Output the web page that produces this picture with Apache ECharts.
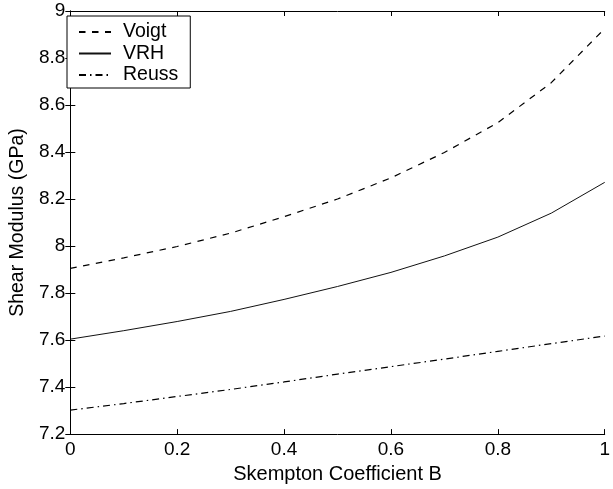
<!DOCTYPE html>
<html>
<head>
<meta charset="utf-8">
<script src="https://cdn.jsdelivr.net/npm/echarts@6/dist/echarts.min.js"></script>
<style>
html,body{margin:0;padding:0;background:#fff;}
#chart{width:613px;height:489px;}
</style>
</head>
<body>
<div id="chart"></div>
<script>
// Skempton coefficient B
const bValues = [0, 0.1, 0.2, 0.3, 0.4, 0.5, 0.6, 0.7, 0.8, 0.9, 1.0];
// Shear modulus (GPa)
const voigt = [7.905, 7.950, 7.998, 8.055, 8.125, 8.200, 8.290, 8.398, 8.525, 8.695, 8.925];
const vrh   = [7.604, 7.640, 7.679, 7.722, 7.773, 7.828, 7.888, 7.958, 8.038, 8.140, 8.271];
const reuss = [7.302, 7.330, 7.360, 7.390, 7.422, 7.455, 7.487, 7.519, 7.552, 7.585, 7.617];
const seriesNames = ['Voigt', 'VRH', 'Reuss'];

const FONT = 'Liberation Sans, Arial, Helvetica, sans-serif';
const pairs = arr => bValues.map((b, i) => [b, arr[i]]);

const axisLineStyle = { show: true, lineStyle: { color: '#000', width: 1 } };
const tickStyle = { show: true, inside: true, length: 5, lineStyle: { color: '#000', width: 1 } };

const chart = echarts.init(document.getElementById('chart'), null, { renderer: 'canvas' });
chart.setOption({
  animation: false,
  backgroundColor: '#fff',
  grid: { left: 60, right: 2, top: 11, bottom: 47, containLabel: false },
  legend: {
    orient: 'vertical',
    left: 67,
    top: 16,
    data: seriesNames,
    itemWidth: 32,
    itemHeight: 14,
    itemGap: 1.5,
    padding: [6, 12, 3, 11],
    borderColor: '#000',
    borderWidth: 1,
    backgroundColor: '#fff',
    itemStyle: { opacity: 0 },
    textStyle: { fontFamily: FONT, fontSize: 19.5, color: '#000', lineHeight: 20, padding: [0, 0, 0, 7] }
  },
  xAxis: [{
    type: 'value', min: 0, max: 1, interval: 0.2,
    name: 'Skempton Coefficient B', nameLocation: 'middle', nameGap: 24,
    nameTextStyle: { fontFamily: FONT, fontSize: 20, color: '#000' },
    axisLine: axisLineStyle, axisTick: tickStyle,
    axisLabel: { fontFamily: FONT, fontSize: 19, color: '#000', margin: 6 },
    splitLine: { show: false }
  }, {
    type: 'value', min: 0, max: 1, interval: 0.2, position: 'top',
    axisLine: axisLineStyle, axisTick: tickStyle,
    axisLabel: { show: false }, splitLine: { show: false }
  }],
  yAxis: [{
    type: 'value', min: 7.2, max: 9, interval: 0.2,
    name: 'Shear Modulus (GPa)', nameLocation: 'middle', nameGap: 36,
    nameTextStyle: { fontFamily: FONT, fontSize: 19.5, color: '#000' },
    axisLine: axisLineStyle, axisTick: tickStyle,
    axisLabel: { fontFamily: FONT, fontSize: 19, color: '#000', margin: 5 },
    splitLine: { show: false }
  }, {
    type: 'value', min: 7.2, max: 9, interval: 0.2, position: 'right',
    axisLine: axisLineStyle, axisTick: tickStyle,
    axisLabel: { show: false }, splitLine: { show: false }
  }],
  series: [{
    name: seriesNames[0], type: 'line', data: pairs(voigt),
    symbol: 'none', smooth: false,
    itemStyle: { color: '#000' },
    lineStyle: { color: '#000', width: 1.2, type: [6.5, 6.5] }
  }, {
    name: seriesNames[1], type: 'line', data: pairs(vrh),
    symbol: 'none', smooth: false,
    itemStyle: { color: '#000' },
    lineStyle: { color: '#111', width: 1, type: 'solid' }
  }, {
    name: seriesNames[2], type: 'line', data: pairs(reuss),
    symbol: 'none', smooth: false,
    itemStyle: { color: '#000' },
    lineStyle: { color: '#000', width: 1.2, type: [7, 4, 1.5, 4] }
  }]
});
</script>
</body>
</html>
